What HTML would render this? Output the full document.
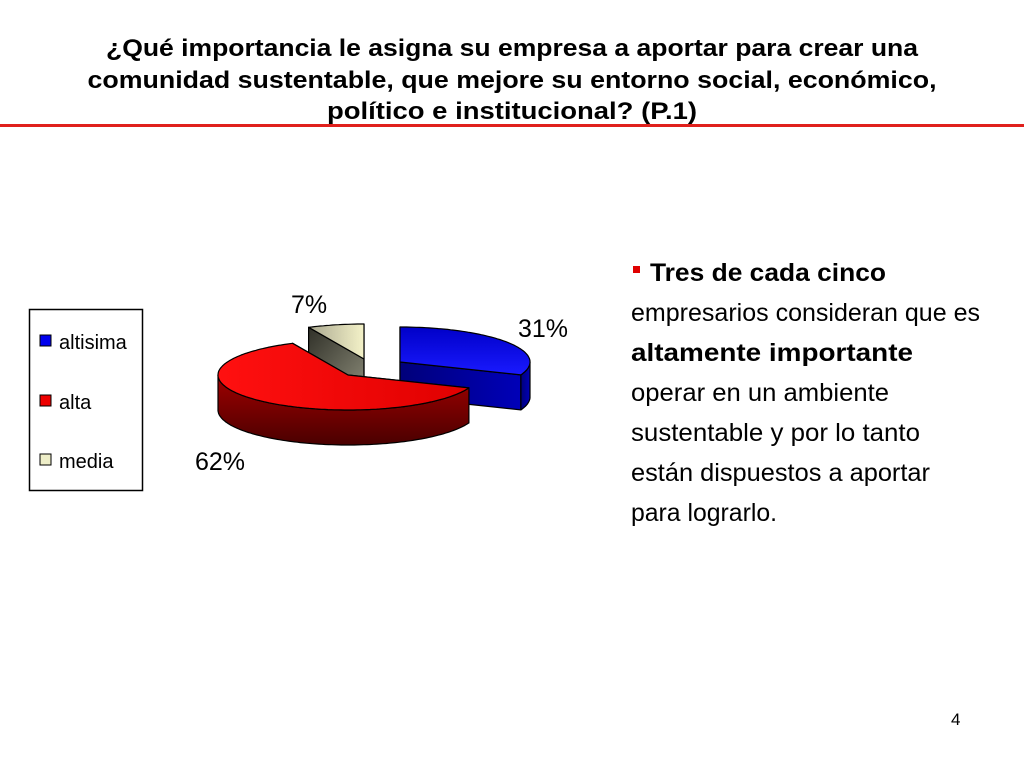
<!DOCTYPE html>
<html><head><meta charset="utf-8"><style>
body{margin:0;background:#fff;}
svg{display:block;font-family:"Liberation Sans",sans-serif;}
</style></head><body>
<svg width="1024" height="768" viewBox="0 0 1024 768">
<defs>
<linearGradient id="gBlueTop" x1="0" y1="0" x2="0" y2="1"><stop offset="0" stop-color="#0000c8"/><stop offset="1" stop-color="#1a1aff"/></linearGradient>
<linearGradient id="gBlueSide" x1="0" y1="0" x2="1" y2="0"><stop offset="0" stop-color="#00007a"/><stop offset="1" stop-color="#0000b8"/></linearGradient>
<linearGradient id="gRedTop" x1="0" y1="0" x2="1" y2="0"><stop offset="0" stop-color="#ff1010"/><stop offset="1" stop-color="#e00000"/></linearGradient>
<linearGradient id="gRedSide" x1="0" y1="0" x2="0" y2="1"><stop offset="0" stop-color="#a00000"/><stop offset="1" stop-color="#4a0000"/></linearGradient>
<linearGradient id="gMedTop" x1="0" y1="0" x2="1" y2="0"><stop offset="0" stop-color="#aaa890"/><stop offset="1" stop-color="#f4f2c8"/></linearGradient>
<linearGradient id="gMedSide" x1="0" y1="0" x2="1" y2="1"><stop offset="0" stop-color="#303028"/><stop offset="1" stop-color="#8a8a78"/></linearGradient>
</defs>
<g font-weight="bold" font-size="24" text-anchor="middle" fill="#000">
<text x="512" y="56" textLength="812" lengthAdjust="spacingAndGlyphs">¿Qué importancia le asigna su empresa a aportar para crear una</text>
<text x="512" y="88" textLength="849" lengthAdjust="spacingAndGlyphs">comunidad sustentable, que mejore su entorno social, económico,</text>
<text x="512" y="119" textLength="370" lengthAdjust="spacingAndGlyphs">político e institucional? (P.1)</text>
</g>
<rect x="0" y="124" width="1024" height="3" fill="#e0201c"/>

<g id="pie"></g>

<g font-size="25" fill="#000">
<text x="291" y="313">7%</text>
<text x="518" y="337">31%</text>
<text x="195" y="470">62%</text>
</g>

<g>
<rect x="29.5" y="309.5" width="113" height="181" fill="#fff" stroke="#000" stroke-width="1.5"/>
<g><rect x="40" y="335" width="11" height="11" fill="#0000ee" stroke="#000"/><text x="59" y="349" font-size="20">altisima</text></g>
<g><rect x="40" y="395" width="11" height="11" fill="#ee0000" stroke="#000"/><text x="59" y="409" font-size="20">alta</text></g>
<g><rect x="40" y="454" width="11" height="11" fill="#eeeec8" stroke="#000"/><text x="59" y="468" font-size="20">media</text></g>
</g>

<g font-size="25" fill="#000">
<rect x="633" y="266" width="7" height="7" fill="#e00000"/>
<text x="650" y="281" font-weight="bold" textLength="236" lengthAdjust="spacingAndGlyphs">Tres de cada cinco</text>
<text x="631" y="321" textLength="349" lengthAdjust="spacingAndGlyphs">empresarios consideran que es</text>
<text x="631" y="361" font-weight="bold" textLength="282" lengthAdjust="spacingAndGlyphs">altamente importante</text>
<text x="631" y="401" textLength="258" lengthAdjust="spacingAndGlyphs">operar en un ambiente</text>
<text x="631" y="441" textLength="289" lengthAdjust="spacingAndGlyphs">sustentable y por lo tanto</text>
<text x="631" y="481" textLength="299" lengthAdjust="spacingAndGlyphs">están dispuestos a aportar</text>
<text x="631" y="521" textLength="146" lengthAdjust="spacingAndGlyphs">para lograrlo.</text>
</g>
<text x="951" y="725" font-size="17">4</text>
</svg>
<script>
const categories = ["altisima", "alta", "media"];
const values = [31, 62, 7];
const topFills = ["url(#gBlueTop)", "url(#gRedTop)", "url(#gMedTop)"];
const sideFills = ["url(#gBlueSide)", "url(#gRedSide)", "url(#gMedSide)"];
const offsets = [[52, -13], [0, 0], [16, -16]];
const CX = 348, CY = 375, RX = 130, RY = 35, DEPTH = 35;
const NS = "http://www.w3.org/2000/svg";
const g = document.getElementById("pie");
const total = values.reduce((a, b) => a + b, 0);
function pt(cx, cy, a) { return [cx + RX * Math.sin(a), cy - RY * Math.cos(a)]; }
function arcPts(cx, cy, a0, a1) {
  const n = Math.max(8, Math.ceil((a1 - a0) * 40)), p = [];
  for (let i = 0; i <= n; i++) p.push(pt(cx, cy, a0 + (a1 - a0) * i / n));
  return p;
}
function poly(points, fill, name) {
  const el = document.createElementNS(NS, "path");
  el.setAttribute("d", "M" + points.map(p => p[0].toFixed(1) + "," + p[1].toFixed(1)).join("L") + "Z");
  el.setAttribute("fill", fill);
  el.setAttribute("stroke", "#000");
  el.setAttribute("stroke-width", "1.2");
  el.setAttribute("stroke-linejoin", "round");
  
  
  g.appendChild(el);
}
let acc = 0;
const slices = values.map((v, i) => {
  const a0 = acc / total * 2 * Math.PI; acc += v;
  const a1 = acc / total * 2 * Math.PI;
  return { i, a0, a1 };
});
[2, 0, 1].forEach(i => {
  const s = slices[i];
  const cx = CX + offsets[i][0], cy = CY + offsets[i][1];
  const c = [cx, cy], cd = [cx, cy + DEPTH];
  const e0 = pt(cx, cy, s.a0), e1 = pt(cx, cy, s.a1);
  poly([c, e0, [e0[0], e0[1] + DEPTH], cd], sideFills[i], "slice-" + categories[i] + "-cut-start");
  poly([c, e1, [e1[0], e1[1] + DEPTH], cd], sideFills[i], "slice-" + categories[i] + "-cut-end");
  const lo = Math.max(s.a0, Math.PI / 2), hi = Math.min(s.a1, 3 * Math.PI / 2);
  if (hi > lo) {
    const top = arcPts(cx, cy, lo, hi);
    const bot = top.map(p => [p[0], p[1] + DEPTH]).reverse();
    poly(top.concat(bot), sideFills[i], "slice-" + categories[i] + "-side");
  }
  poly([c].concat(arcPts(cx, cy, s.a0, s.a1)), topFills[i], "slice-" + categories[i]);
});
</script>
</body></html>
